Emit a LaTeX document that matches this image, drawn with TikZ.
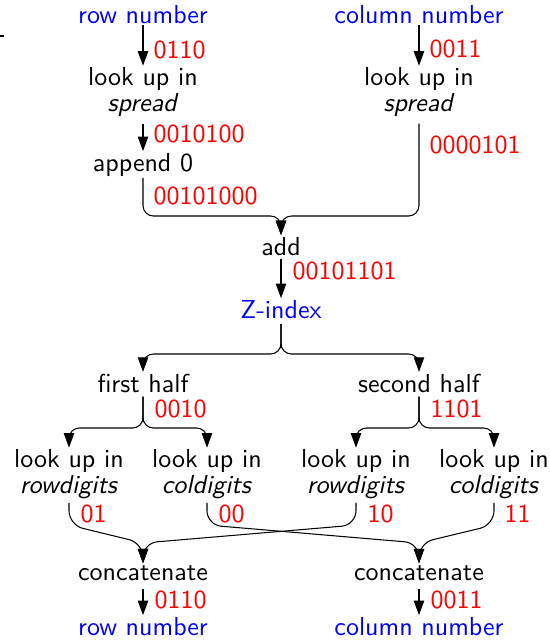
\documentclass[tikz,border=0pt]{standalone}
\usetikzlibrary{arrows.meta}
\begin{document}
\begin{tikzpicture}[x=0.3846pt,y=-0.3846pt,
  every node/.style={font=\fontsize{10}{9.8}\selectfont\sffamily, inner sep=0.5pt},
  txt/.style={anchor=base},
  io/.style={anchor=base, text=blue},
  two/.style={align=center, anchor=north},
  num/.style={anchor=base west, text=red, inner sep=0pt},
  arr/.style={-{Triangle[length=5.6pt,width=4pt]}},
  mrg/.style={arr, rounded corners=4pt},
  mrgb/.style={arr, rounded corners=5.5pt},
]
\useasboundingbox (0,0) rectangle (549,644);
\draw (0,36) -- (4,36);

% top inputs
\node[io] (rn1) at (143,23) {row number};
\node[io] (cn1) at (419,23) {column number};
\node[two] (lu1) at (143,65.7) {look up in\\\textit{spread}};
\node[two] (lu2) at (419,65.7) {look up in\\\textit{spread}};
\node[txt] (ap) at (143,171) {append 0};
\node[txt] (add) at (281,255) {add};
\node[io] (z) at (281,318) {Z-index};
\node[txt] (fh) at (143,392) {first half};
\node[txt] (sh) at (419,392) {second half};
\node[two] (l1) at (69,447.7) {look up in\\\textit{rowdigits}};
\node[two] (l2) at (207,447.7) {look up in\\\textit{coldigits}};
\node[two] (l3) at (356,447.7) {look up in\\\textit{rowdigits}};
\node[two] (l4) at (494,447.7) {look up in\\\textit{coldigits}};
\node[txt] (c1) at (143,580) {concatenate};
\node[txt] (c2) at (419,580) {concatenate};
\node[io] (rn2) at (143,635) {row number};
\node[io] (cn2) at (419,635) {column number};

% values
\node[num] (v1) at (153,58) {0110};
\node[num] (v2) at (429,57) {0011};
\node[num] (v3) at (153,142) {0010100};
\node[num] (v4) at (429,153) {0000101};
\node[num] (v5) at (153,204) {00101000};
\node[num] (v6) at (292,279) {00101101};
\node[num] (v7) at (154,417) {0010};
\node[num] (v8) at (430,417) {1101};
\node[num] (v9) at (80,522) {01};
\node[num] (v10) at (218,522) {00};
\node[num] (v11) at (367,522) {10};
\node[num] (v12) at (504,522) {11};
\node[num] (v13) at (154,608) {0110};
\node[num] (v14) at (430,608) {0011};

% junction coordinates
\coordinate (j1) at (281,216);
\coordinate (j2) at (281,354);
\coordinate (j3) at (143,428);
\coordinate (j4) at (419,428);
\coordinate (k1) at (0,525);
\coordinate (k2) at (0,543);

% connectors
\draw[arr] (rn1.south) -- (lu1.north);
\draw[arr] (cn1.south) -- (lu2.north);
\draw[arr, shorten <=2.2pt] (lu1.south) -- (ap.north);
\draw[mrg] (ap.south) |- (j1) -- (add.north);
\draw[mrg, shorten <=2.2pt] (lu2.south) |- (j1) -- (add.north);
\draw[arr, shorten <=0.6pt] (add.south) -- (z.north);
\draw[mrg, shorten <=1.5pt] (z.south) |- (j2) -| (fh.north);
\draw[mrg, shorten <=1.5pt] (z.south) |- (j2) -| (sh.north);
\draw[mrg, shorten <=1pt] (fh.south) |- (j3) -| (l1.north);
\draw[mrg, shorten <=1pt] (fh.south) |- (j3) -| (l2.north);
\draw[mrg, shorten <=1pt] (sh.south) |- (j4) -| (l3.north);
\draw[mrg, shorten <=1pt] (sh.south) |- (j4) -| (l4.north);
\draw[mrgb, shorten <=1pt] (l1.south) -- (l1.south |- k1) -- (c1.north |- k2) -- (c1.north);
\draw[mrgb, shorten <=1pt] (l3.south) -- (l3.south |- k1) -- (c1.north |- k2) -- (c1.north);
\draw[mrgb, shorten <=1pt] (l2.south) -- (l2.south |- k1) -- (c2.north |- k2) -- (c2.north);
\draw[mrgb, shorten <=1pt] (l4.south) -- (l4.south |- k1) -- (c2.north |- k2) -- (c2.north);
\draw[arr, shorten <=2.5pt] (c1.south) -- (rn2.north);
\draw[arr, shorten <=2.5pt] (c2.south) -- (cn2.north);
\end{tikzpicture}
\end{document}
